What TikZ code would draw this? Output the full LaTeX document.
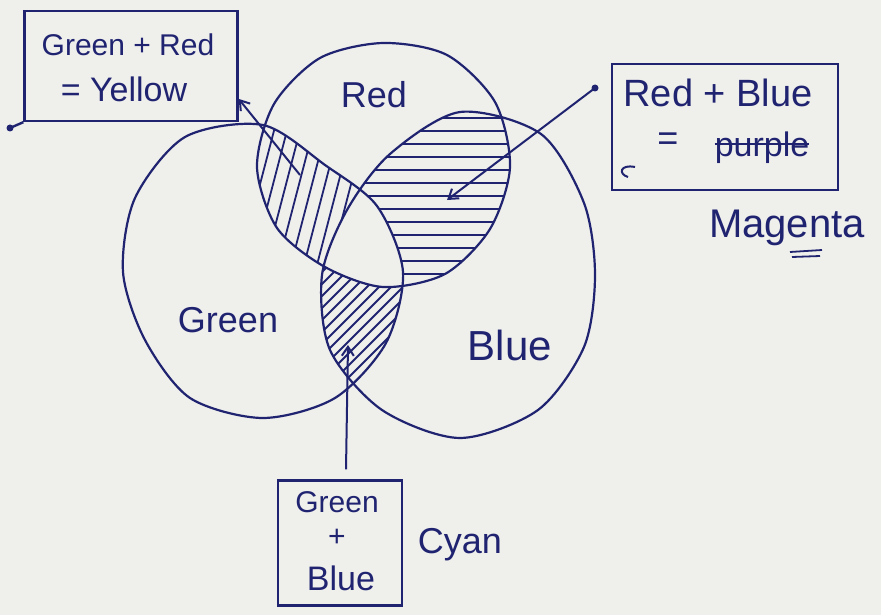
\documentclass[tikz,border=0pt]{standalone}
\usepackage{fontspec}
\setmainfont{Liberation Sans}
\usetikzlibrary{arrows.meta}
\definecolor{ink}{RGB}{32,36,112}
\definecolor{paper}{RGB}{239,239,236}
\newcommand{\myfs}[1]{\fontsize{#1}{#1}\selectfont}
\tikzset{
  redc/.style={insert path={plot[smooth cycle] coordinates {(510,167) (490,229) (445,274) (383,287) (325,267) (277,228) (257,167) (274,104) (320,58) (383,43) (447,55) (495,102)}}},
  greenc/.style={insert path={plot[smooth cycle] coordinates {(403,272) (386,343) (335,398) (263,418) (190,398) (145,340) (123,272) (135,198) (185,137) (263,125) (325,165) (377,206)}}},
  bluec/.style={insert path={plot[smooth cycle] coordinates {(595,275) (584,347) (538,410) (460,438) (382,410) (330,350) (322,275) (347,210) (390,154) (460,112) (541,134) (584,203)}}},
  outline/.style={draw=ink,line width=2.2pt},
  hatch/.style={draw=ink,line width=1.8pt},
  box/.style={draw=ink,line width=2.4pt,inner sep=0pt},
  txt/.style={text=ink,inner sep=0pt},
  conn/.style={draw=ink,line width=2pt,-{Straight Barb[length=9pt,width=12pt]}},
}
\begin{document}
\begin{tikzpicture}[x=1pt,y=-1pt]
\fill[paper] (0,0) rectangle (881,615);
\useasboundingbox (0,0) rectangle (881,615);
% hatching: Red & Green
\begin{scope}
  \clip[redc]; \clip[greenc];
  \foreach \x in {230,243,...,460} \draw[hatch] (\x,100) -- (\x-60,330);
\end{scope}
% hatching: Red & Blue
\begin{scope}
  \clip[redc]; \clip[bluec];
  \foreach \y in {118,131,...,290} \draw[hatch] (340,\y) -- (515,\y);
\end{scope}
% hatching: Green & Blue
\begin{scope}
  \clip[greenc]; \clip[bluec];
  \foreach \x in {150,162,...,450} \draw[hatch] (\x,420) -- (\x+160,260);
\end{scope}
% centre left blank
\begin{scope}
  \clip[redc]; \clip[greenc];
  \fill[paper,bluec];
\end{scope}
% outlines
\draw[outline,redc];
\draw[outline,greenc];
\draw[outline,bluec];
% circle labels
\node[txt,font=\myfs{36}] (lred) at (374,95) {Red};
\node[txt,font=\myfs{36}] (lgreen) at (228,320) {Green};
\node[txt,font=\myfs{42}] (lblue) at (510,345) {Blue};
% Yellow box
\node[box,minimum width=213pt,minimum height=110pt] (yb) at (131,66) {};
\node[txt,font=\myfs{30}] (t1) at (128,45) {Green + Red};
\node[txt,font=\myfs{34}] (t2) at (124,89) {= Yellow};
\coordinate (ydot) at (10,128);
\draw[ink,line width=2.4pt] (yb.south west) -- (ydot);
\fill[ink] (ydot) circle (3.5);
\coordinate (ya) at (300,175);
\draw[conn] (ya) -- (yb.-17);
% Magenta box
\node[box,minimum width=226pt,minimum height=126pt] (mb) at (725,127) {};
\node[txt,font=\myfs{38}] (t3) at (718,93) {Red + Blue};
\node[txt,font=\myfs{36}] (t4eq) at (668,142) {=};
\node[txt,font=\myfs{34}] (t4) at (762,148) {purple};
\draw[ink,line width=2.4pt] ([yshift=4pt]t4.west) -- ([yshift=4pt]t4.east);
\draw[ink,line width=2pt] (635,167) .. controls (620,164) and (618,174) .. (628,177);
\node[txt,font=\myfs{40}] (t5) at (787,228) {Magenta};
\draw[ink,line width=1.8pt] (790,252) -- (822,250);
\draw[ink,line width=1.8pt] (792,257) -- (820,256);
\coordinate (ms) at (595,88);
\coordinate (mt) at (447,200);
\fill[ink] (ms) circle (3.5);
\draw[conn] (ms) -- (mt);
% Cyan box
\node[box,minimum width=124pt,minimum height=125pt] (cb) at (340,543) {};
\node[txt,font=\myfs{30}] (t6) at (337,502) {Green};
\node[txt,font=\myfs{30}] (t7) at (337,538) {+};
\node[txt,font=\myfs{34}] (t8) at (341,578) {Blue};
\node[txt,font=\myfs{36}] (t9) at (460,545) {Cyan};
\coordinate (ct) at (348,345);
\draw[conn] ([xshift=6pt,yshift=10pt]cb.north) -- (ct);
\end{tikzpicture}
\end{document}
